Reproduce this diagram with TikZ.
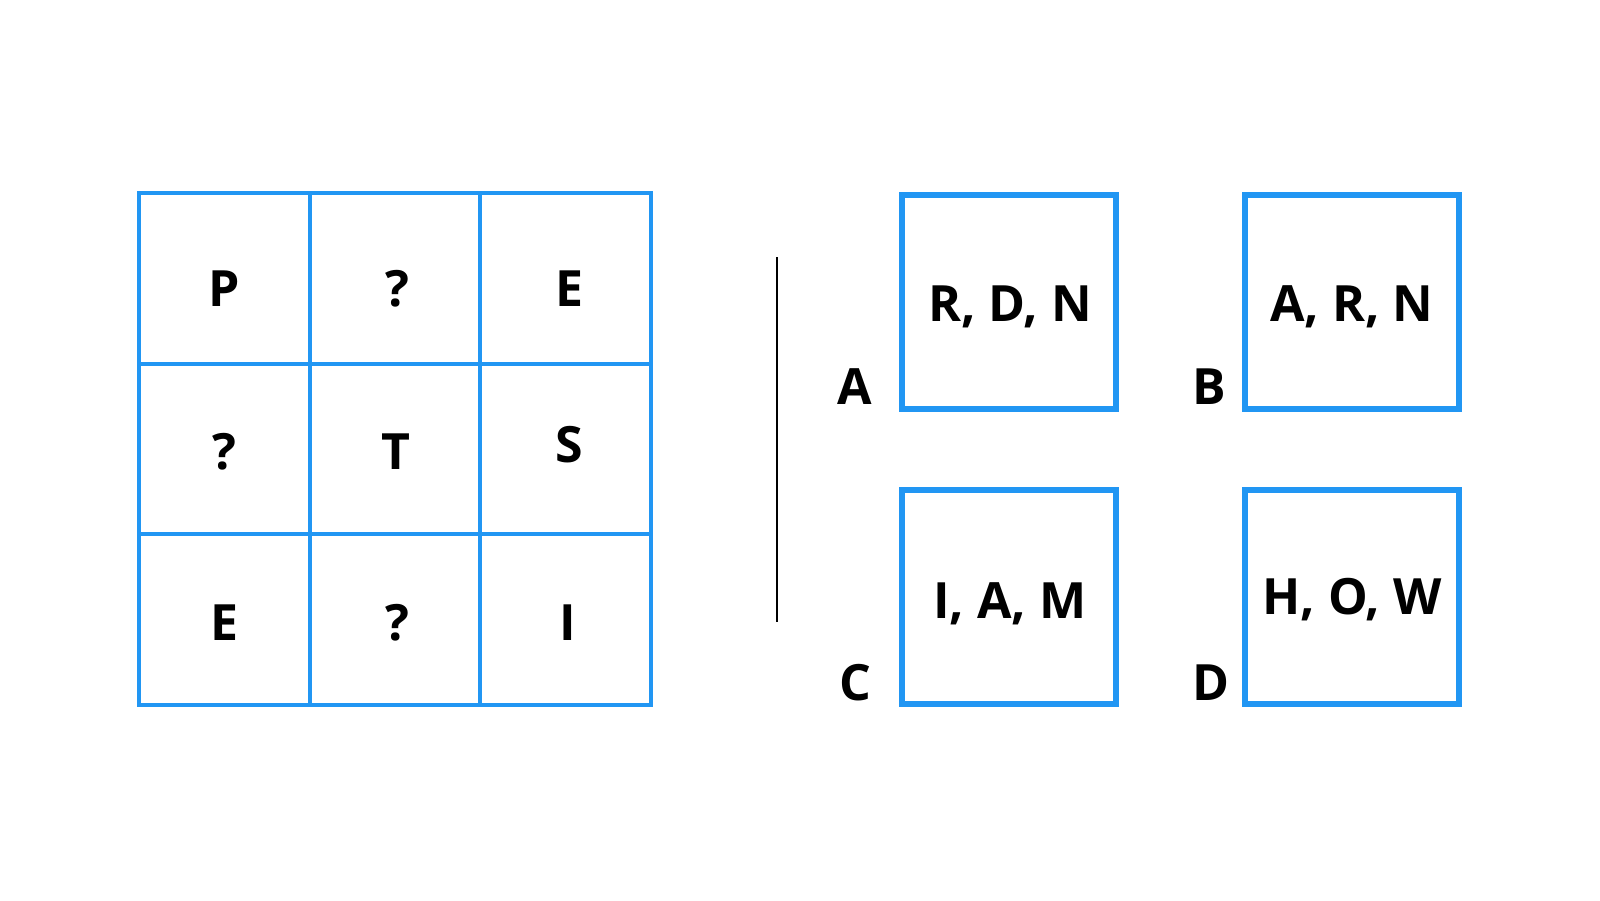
\documentclass[tikz,border=0pt]{standalone}
\usepackage{fontspec}
\setmainfont{Open Sans}
\usetikzlibrary{positioning}
\definecolor{grade}{HTML}{2196F3}
\definecolor{tinta}{HTML}{000000}

\begin{document}
\begin{tikzpicture}[x=1pt,y=-1pt,font=\fontsize{50}{60}\selectfont\bfseries,
  letra/.style={anchor=base, text=tinta, inner sep=0pt},
  caixa/.style={draw=grade, line width=6pt}]
\useasboundingbox (0,0) rectangle (1600,900);
% grade 3x3
\draw[grade, line width=4pt] (139,193) rectangle (651,705);
\foreach \x in {309.7,480.3} \draw[grade, line width=4pt] (\x,193) -- (\x,705);
\foreach \y in {363.7,534.3} \draw[grade, line width=4pt] (139,\y) -- (651,\y);
% letras da grade
\foreach \n/\x/\y/\l in {p/224/306/P, qa/397/306/?, ea/569/306/E,
                         qb/224/469/?, t/396/469/T, s/569/462/S,
                         eb/224/640/E, qc/397/640/?, i/568/640/I}
  \node[letra] (g\n) at (\x,\y) {\l};
% separador
\coordinate (sepA) at (777,257);
\coordinate (sepB) at (777,622);
\draw[black, line width=2.5pt] (sepA) -- (sepB);
% opcoes
\foreach \x/\y in {902/195,1245/195,902/490,1245/490}
  \draw[caixa] (\x,\y) rectangle ++(214,214);
\node[letra] (rdn) at (1010,321) {R, D, N};
\node[letra] (arn) at (1352,321) {A, R, N};
\node[letra] (iam) at (1010,618) {I, A, M};
\node[letra] (how) at (1352,614) {H, O, W};
% rotulos
\node[letra] (opA) at (855,404) {A};
\node[letra] (opB) at (1209,404) {B};
\node[letra] (opC) at (855,700) {C};
\node[letra] (opD) at (1211,700) {D};
\end{tikzpicture}
\end{document}
